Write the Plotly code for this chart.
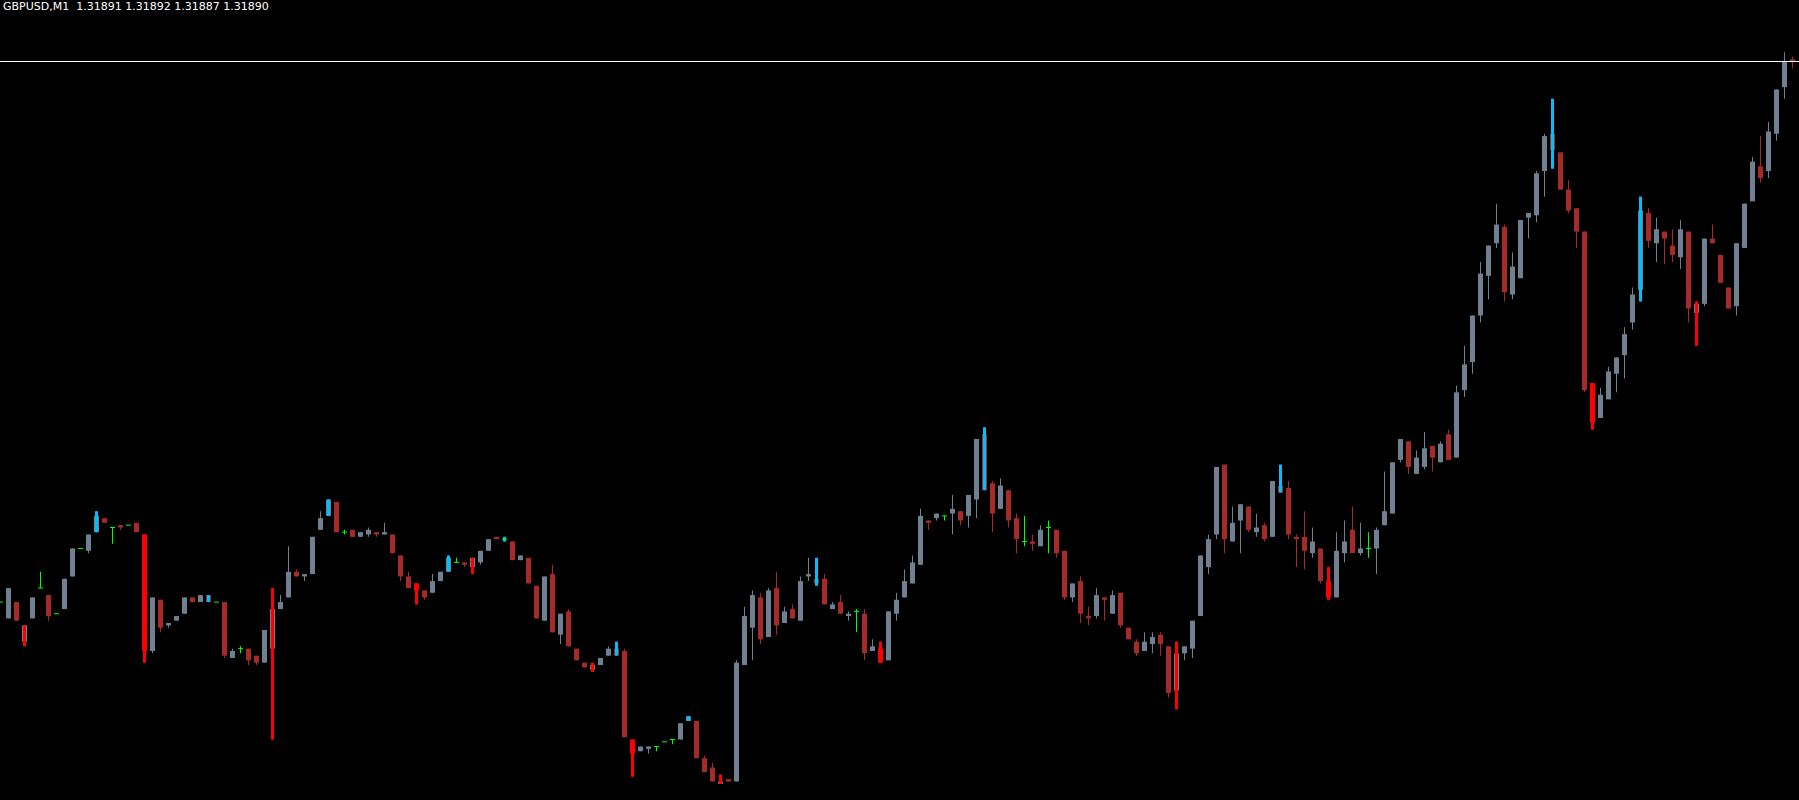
import plotly.graph_objects as go

symbol = "GBPUSD,M1"
last_quote = ["1.31891", "1.31892", "1.31887", "1.31890"]
bid_level = 1.31890

opens = [
1.31658, 1.31651, 1.31658, 1.31641, 1.31651, 1.31664, 1.31661, 1.31653, 1.31655, 1.31669,
1.31681, 1.31680, 1.31688, 1.31694, 1.31690, 1.31691, 1.31691, 1.31692, 1.31687, 1.31637,
1.31659, 1.31648, 1.31650, 1.31653, 1.31660, 1.31658, 1.31661, 1.31658, 1.31658, 1.31634,
1.31638, 1.31638, 1.31635, 1.31632, 1.31638, 1.31655, 1.31660, 1.31671, 1.31669, 1.31670,
1.31689, 1.31695, 1.31701, 1.31688, 1.31689, 1.31686, 1.31687, 1.31688, 1.31687, 1.31687,
1.31678, 1.31669, 1.31666, 1.31663, 1.31662, 1.31667, 1.31671, 1.31675, 1.31675, 1.31673,
1.31675, 1.31680, 1.31686, 1.31685, 1.31684, 1.31676, 1.31677, 1.31665, 1.31650, 1.31670,
1.31644, 1.31654, 1.31638, 1.31632, 1.31629, 1.31631, 1.31635, 1.31638, 1.31637, 1.31599,
1.31594, 1.31595, 1.31596, 1.31598, 1.31599, 1.31599, 1.31607, 1.31607, 1.31591, 1.31587,
1.31580, 1.31582, 1.31581, 1.31631, 1.31647, 1.31660, 1.31643, 1.31664, 1.31649, 1.31655,
1.31650, 1.31669, 1.31668, 1.31668, 1.31655, 1.31658, 1.31652, 1.31654, 1.31653, 1.31637,
1.31638, 1.31633, 1.31653, 1.31660, 1.31666, 1.31674, 1.31693, 1.31694, 1.31695, 1.31696,
1.31697, 1.31695, 1.31702, 1.31730, 1.31709, 1.31698, 1.31706, 1.31694, 1.31684, 1.31684,
1.31682, 1.31690, 1.31689, 1.31680, 1.31660, 1.31667, 1.31652, 1.31652, 1.31660, 1.31653,
1.31662, 1.31647, 1.31641, 1.31637, 1.31640, 1.31644, 1.31639, 1.31620, 1.31636, 1.31638,
1.31652, 1.31673, 1.31687, 1.31717, 1.31684, 1.31693, 1.31699, 1.31688, 1.31691, 1.31686,
1.31708, 1.31707, 1.31686, 1.31686, 1.31679, 1.31681, 1.31667, 1.31660, 1.31679, 1.31689,
1.31679, 1.31681, 1.31681, 1.31691, 1.31696, 1.31719, 1.31727, 1.31713, 1.31716, 1.31725,
1.31718, 1.31730, 1.31720, 1.31749, 1.31761, 1.31781, 1.31798, 1.31812, 1.31819, 1.31790,
1.31797, 1.31823, 1.31824, 1.31843, 1.31859, 1.31851, 1.31835, 1.31827, 1.31817, 1.31752,
1.31737, 1.31745, 1.31756, 1.31764, 1.31778, 1.31792, 1.31825, 1.31812, 1.31817, 1.31811,
1.31806, 1.31817, 1.31782, 1.31786, 1.31814, 1.31807, 1.31793, 1.31785, 1.31810, 1.31830,
1.31845, 1.31843, 1.31859, 1.31879, 1.31891,
]

highs = [
1.31658, 1.31664, 1.31658, 1.31648, 1.31660, 1.31671, 1.31661, 1.31653, 1.31668, 1.31681,
1.31681, 1.31687, 1.31697, 1.31694, 1.31690, 1.31691, 1.31691, 1.31692, 1.31687, 1.31660,
1.31659, 1.31649, 1.31652, 1.31660, 1.31660, 1.31661, 1.31661, 1.31658, 1.31658, 1.31638,
1.31639, 1.31638, 1.31635, 1.31646, 1.31664, 1.31661, 1.31682, 1.31672, 1.31670, 1.31686,
1.31697, 1.31702, 1.31701, 1.31689, 1.31689, 1.31688, 1.31690, 1.31688, 1.31692, 1.31687,
1.31678, 1.31671, 1.31666, 1.31663, 1.31670, 1.31671, 1.31678, 1.31677, 1.31675, 1.31677,
1.31680, 1.31685, 1.31686, 1.31686, 1.31684, 1.31678, 1.31677, 1.31665, 1.31669, 1.31674,
1.31653, 1.31655, 1.31638, 1.31632, 1.31632, 1.31634, 1.31639, 1.31641, 1.31638, 1.31599,
1.31596, 1.31596, 1.31596, 1.31598, 1.31599, 1.31606, 1.31609, 1.31607, 1.31592, 1.31589,
1.31584, 1.31582, 1.31633, 1.31656, 1.31663, 1.31662, 1.31664, 1.31671, 1.31656, 1.31657,
1.31669, 1.31677, 1.31677, 1.31670, 1.31658, 1.31661, 1.31654, 1.31655, 1.31655, 1.31642,
1.31641, 1.31654, 1.31662, 1.31672, 1.31678, 1.31698, 1.31693, 1.31696, 1.31695, 1.31704,
1.31697, 1.31704, 1.31728, 1.31733, 1.31710, 1.31711, 1.31706, 1.31696, 1.31695, 1.31687,
1.31691, 1.31693, 1.31689, 1.31680, 1.31666, 1.31669, 1.31656, 1.31664, 1.31660, 1.31663,
1.31662, 1.31647, 1.31642, 1.31645, 1.31645, 1.31645, 1.31639, 1.31641, 1.31639, 1.31650,
1.31678, 1.31687, 1.31716, 1.31717, 1.31699, 1.31700, 1.31699, 1.31696, 1.31692, 1.31710,
1.31717, 1.31710, 1.31687, 1.31697, 1.31690, 1.31681, 1.31673, 1.31688, 1.31693, 1.31699,
1.31692, 1.31688, 1.31690, 1.31714, 1.31718, 1.31728, 1.31727, 1.31723, 1.31731, 1.31725,
1.31727, 1.31732, 1.31751, 1.31768, 1.31781, 1.31804, 1.31811, 1.31829, 1.31820, 1.31808,
1.31822, 1.31825, 1.31843, 1.31859, 1.31874, 1.31851, 1.31839, 1.31827, 1.31817, 1.31752,
1.31750, 1.31759, 1.31763, 1.31776, 1.31793, 1.31832, 1.31827, 1.31823, 1.31817, 1.31818,
1.31822, 1.31817, 1.31787, 1.31814, 1.31820, 1.31807, 1.31793, 1.31812, 1.31829, 1.31849,
1.31858, 1.31864, 1.31878, 1.31894, 1.31892,
]

lows = [
1.31658, 1.31651, 1.31650, 1.31639, 1.31651, 1.31664, 1.31650, 1.31653, 1.31655, 1.31669,
1.31681, 1.31679, 1.31688, 1.31692, 1.31683, 1.31689, 1.31691, 1.31688, 1.31632, 1.31636,
1.31645, 1.31647, 1.31650, 1.31653, 1.31658, 1.31658, 1.31658, 1.31658, 1.31634, 1.31634,
1.31636, 1.31631, 1.31631, 1.31632, 1.31599, 1.31655, 1.31660, 1.31669, 1.31667, 1.31670,
1.31689, 1.31695, 1.31688, 1.31687, 1.31686, 1.31686, 1.31686, 1.31686, 1.31687, 1.31679,
1.31667, 1.31664, 1.31657, 1.31659, 1.31662, 1.31667, 1.31671, 1.31675, 1.31673, 1.31670,
1.31674, 1.31680, 1.31685, 1.31684, 1.31676, 1.31676, 1.31666, 1.31651, 1.31650, 1.31645,
1.31640, 1.31639, 1.31633, 1.31630, 1.31628, 1.31631, 1.31635, 1.31635, 1.31600, 1.31583,
1.31594, 1.31593, 1.31594, 1.31598, 1.31597, 1.31599, 1.31607, 1.31591, 1.31585, 1.31581,
1.31580, 1.31581, 1.31581, 1.31631, 1.31633, 1.31640, 1.31643, 1.31644, 1.31649, 1.31651,
1.31650, 1.31667, 1.31665, 1.31657, 1.31655, 1.31653, 1.31650, 1.31645, 1.31633, 1.31637,
1.31632, 1.31633, 1.31650, 1.31660, 1.31666, 1.31674, 1.31689, 1.31693, 1.31693, 1.31687,
1.31691, 1.31690, 1.31694, 1.31706, 1.31688, 1.31698, 1.31690, 1.31679, 1.31682, 1.31680,
1.31682, 1.31679, 1.31677, 1.31659, 1.31658, 1.31649, 1.31648, 1.31651, 1.31650, 1.31653,
1.31647, 1.31642, 1.31635, 1.31637, 1.31636, 1.31635, 1.31617, 1.31612, 1.31633, 1.31634,
1.31652, 1.31670, 1.31685, 1.31679, 1.31684, 1.31679, 1.31688, 1.31686, 1.31684, 1.31686,
1.31705, 1.31685, 1.31673, 1.31672, 1.31677, 1.31666, 1.31659, 1.31660, 1.31675, 1.31679,
1.31678, 1.31677, 1.31670, 1.31691, 1.31696, 1.31718, 1.31713, 1.31713, 1.31715, 1.31714,
1.31718, 1.31719, 1.31720, 1.31746, 1.31756, 1.31778, 1.31788, 1.31810, 1.31787, 1.31788,
1.31797, 1.31814, 1.31821, 1.31832, 1.31844, 1.31835, 1.31825, 1.31810, 1.31748, 1.31732,
1.31737, 1.31745, 1.31748, 1.31754, 1.31775, 1.31787, 1.31810, 1.31804, 1.31803, 1.31804,
1.31801, 1.31778, 1.31768, 1.31785, 1.31812, 1.31795, 1.31784, 1.31781, 1.31810, 1.31830,
1.31838, 1.31840, 1.31856, 1.31874, 1.31887,
]

closes = [
1.31658, 1.31664, 1.31650, 1.31648, 1.31660, 1.31664, 1.31652, 1.31653, 1.31668, 1.31681,
1.31681, 1.31687, 1.31695, 1.31692, 1.31690, 1.31690, 1.31691, 1.31688, 1.31637, 1.31660,
1.31647, 1.31649, 1.31652, 1.31660, 1.31658, 1.31661, 1.31658, 1.31658, 1.31635, 1.31637,
1.31638, 1.31633, 1.31632, 1.31646, 1.31655, 1.31658, 1.31671, 1.31669, 1.31670, 1.31686,
1.31694, 1.31702, 1.31688, 1.31688, 1.31686, 1.31688, 1.31689, 1.31687, 1.31688, 1.31679,
1.31669, 1.31664, 1.31663, 1.31660, 1.31667, 1.31671, 1.31677, 1.31675, 1.31674, 1.31677,
1.31680, 1.31685, 1.31685, 1.31685, 1.31676, 1.31678, 1.31666, 1.31651, 1.31669, 1.31645,
1.31653, 1.31639, 1.31633, 1.31630, 1.31631, 1.31634, 1.31638, 1.31635, 1.31600, 1.31593,
1.31596, 1.31596, 1.31596, 1.31598, 1.31599, 1.31606, 1.31609, 1.31591, 1.31585, 1.31581,
1.31581, 1.31581, 1.31632, 1.31652, 1.31661, 1.31642, 1.31663, 1.31648, 1.31654, 1.31651,
1.31667, 1.31670, 1.31666, 1.31657, 1.31657, 1.31653, 1.31653, 1.31654, 1.31636, 1.31639,
1.31632, 1.31654, 1.31659, 1.31667, 1.31675, 1.31695, 1.31692, 1.31696, 1.31695, 1.31698,
1.31693, 1.31704, 1.31728, 1.31706, 1.31696, 1.31708, 1.31693, 1.31685, 1.31684, 1.31683,
1.31689, 1.31690, 1.31679, 1.31660, 1.31666, 1.31653, 1.31651, 1.31661, 1.31659, 1.31661,
1.31648, 1.31642, 1.31636, 1.31641, 1.31643, 1.31640, 1.31619, 1.31636, 1.31639, 1.31650,
1.31678, 1.31685, 1.31716, 1.31685, 1.31692, 1.31700, 1.31689, 1.31690, 1.31685, 1.31710,
1.31705, 1.31687, 1.31685, 1.31680, 1.31684, 1.31667, 1.31660, 1.31680, 1.31684, 1.31679,
1.31681, 1.31681, 1.31689, 1.31697, 1.31718, 1.31728, 1.31716, 1.31720, 1.31724, 1.31720,
1.31726, 1.31719, 1.31748, 1.31760, 1.31781, 1.31799, 1.31811, 1.31820, 1.31791, 1.31802,
1.31822, 1.31825, 1.31842, 1.31858, 1.31852, 1.31835, 1.31826, 1.31817, 1.31749, 1.31735,
1.31747, 1.31757, 1.31763, 1.31773, 1.31790, 1.31826, 1.31813, 1.31818, 1.31814, 1.31807,
1.31818, 1.31784, 1.31786, 1.31814, 1.31812, 1.31795, 1.31784, 1.31812, 1.31829, 1.31847,
1.31840, 1.31860, 1.31878, 1.31890, 1.31890,
]

# candles flagged by the overlay indicator
red_signal = [3, 18, 34, 52, 59, 74, 79, 90, 110, 147, 166, 199, 212]
cyan_signal = [12, 26, 41, 56, 63, 77, 86, 102, 123, 160, 194, 205]

BULL = "#708090"
BEAR = "#A52A2A"
DOJI = "#00FF00"
SIG_RED = "#FF0000"
SIG_CYAN = "#00BFFF"

n = len(opens)
idx = list(range(n))

wick_col, body_x, body_base, body_h, body_col = [], [], [], [], []
doji_x, doji_y = [], []
for i in idx:
    o, c = opens[i], closes[i]
    if c > o:
        col = BULL
    elif c < o:
        col = SIG_RED if i in red_signal else BEAR
    else:
        col = DOJI
    wick_col.append(col)
    if c != o:
        body_x.append(i)
        body_base.append(min(o, c))
        body_h.append(abs(c - o))
        body_col.append(col)
    else:
        doji_x += [i - 0.3125, i + 0.3125, None]
        doji_y += [o, o, None]

fig = go.Figure()

fig.add_trace(go.Bar(
    x=idx, base=lows, y=[h - l for h, l in zip(highs, lows)],
    width=0.125, marker=dict(color=wick_col, line=dict(width=0)),
    hoverinfo="skip"))

fig.add_trace(go.Bar(
    x=body_x, base=body_base, y=body_h,
    width=0.625, marker=dict(color=body_col, line=dict(width=0)),
    hoverinfo="skip"))

for sig, colr in ((red_signal, SIG_RED), (cyan_signal, SIG_CYAN)):
    fig.add_trace(go.Bar(
        x=sig, base=[lows[i] for i in sig],
        y=[highs[i] - lows[i] for i in sig],
        width=0.375, marker=dict(color=colr, line=dict(width=0)),
        hoverinfo="skip"))

fig.add_trace(go.Scatter(
    x=doji_x, y=doji_y, mode="lines",
    line=dict(color=DOJI, width=1), hoverinfo="skip"))

fig.add_shape(type="line", xref="paper", x0=0, x1=1, yref="y",
              y0=bid_level, y1=bid_level, line=dict(color="#FFFFFF", width=1))

fig.add_annotation(
    xref="paper", yref="paper", x=0, y=1, xanchor="left", yanchor="top",
    xshift=1, yshift=2, showarrow=False,
    text=symbol + "\u00a0\u00a0" + " ".join(last_quote),
    font=dict(family="DejaVu Sans", size=11, color="#FFFFFF"))

fig.update_layout(
    width=1799, height=800,
    margin=dict(l=0, r=0, t=0, b=0),
    paper_bgcolor="#000000", plot_bgcolor="#000000",
    barmode="overlay", showlegend=False,
    xaxis=dict(visible=False, range=[-0.0625, 224.8125], fixedrange=True),
    yaxis=dict(visible=False, range=[1.3157305, 1.3191640], fixedrange=True),
)

fig.write_html("out.html", config={"displayModeBar": False},
               post_script="document.body.style.margin='0';document.body.style.background='black';")
